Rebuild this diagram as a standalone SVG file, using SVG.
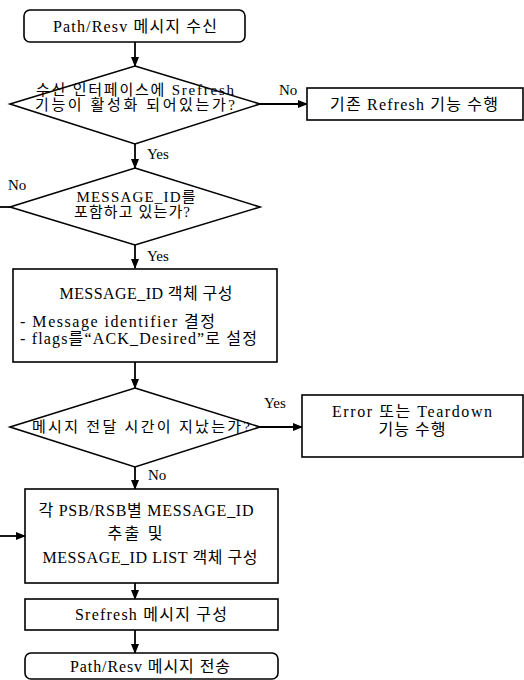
<svg xmlns="http://www.w3.org/2000/svg" width="524" height="680" viewBox="0 0 524 680">
<defs>
<marker id="ah" markerWidth="10" markerHeight="8" refX="9" refY="4" orient="auto" markerUnits="userSpaceOnUse">
<path d="M0,0 L10,4 L0,8 Z" fill="#000"/>
</marker>
<style>
.s{fill:#fff;stroke:#000;stroke-width:1.6}
.t{font-family:"Liberation Serif","Noto Sans CJK KR",serif;font-size:16px;fill:#000}
.d{font-size:15px}
.m{text-anchor:middle}
.c{stroke:#000;stroke-width:1.8;fill:none}
</style>
</defs>
<rect width="524" height="680" fill="#fff"/>
<g id="connectors">
<line class="c" x1="135" y1="42" x2="135" y2="66" marker-end="url(#ah)"/>
<line class="c" x1="260" y1="104" x2="307" y2="104" marker-end="url(#ah)"/>
<line class="c" x1="135" y1="144" x2="135" y2="168" marker-end="url(#ah)"/>
<line class="c" x1="10" y1="207" x2="0" y2="207"/>
<line class="c" x1="135" y1="245" x2="135" y2="268" marker-end="url(#ah)"/>
<line class="c" x1="135" y1="362" x2="135" y2="388" marker-end="url(#ah)"/>
<line class="c" x1="260" y1="427" x2="302" y2="427" marker-end="url(#ah)"/>
<line class="c" x1="135" y1="467" x2="135" y2="489" marker-end="url(#ah)"/>
<line class="c" x1="0" y1="536" x2="25" y2="536" marker-end="url(#ah)"/>
<line class="c" x1="135" y1="583" x2="135" y2="599" marker-end="url(#ah)"/>
<line class="c" x1="135" y1="630" x2="135" y2="653" marker-end="url(#ah)"/>
<text class="t d" x="279" y="95">No</text>
<text class="t d" x="147" y="159">Yes</text>
<text class="t d" x="8" y="190">No</text>
<text class="t d" x="147" y="261">Yes</text>
<text class="t d" x="264" y="408">Yes</text>
<text class="t d" x="148" y="480">No</text>
</g>
<g id="start">
<rect class="s" x="24" y="10" width="221" height="32" rx="6"/>
<text class="t m" x="135" y="32" textLength="164" lengthAdjust="spacing">Path/Resv 메시지 수신</text>
</g>
<g id="d1">
<polygon class="s" points="135,66 260,104 135,144 10,104"/>
<text class="t d m" x="135" y="95" textLength="198" lengthAdjust="spacing">수신 인터페이스에 Srefresh</text>
<text class="t d m" x="135" y="110" textLength="200" lengthAdjust="spacing">기능이 활성화 되어있는가?</text>
</g>
<g id="refresh">
<rect class="s" x="307" y="88" width="216" height="32"/>
<text class="t m" x="414" y="110" textLength="168" lengthAdjust="spacing">기존 Refresh 기능 수행</text>
</g>
<g id="d2">
<polygon class="s" points="135,168 260,207 135,245 10,207"/>
<text class="t d m" x="136" y="202" textLength="119" lengthAdjust="spacing">MESSAGE_ID를</text>
<text class="t d m" x="132" y="217" textLength="116" lengthAdjust="spacing">포함하고 있는가?</text>
</g>
<g id="msgid">
<rect class="s" x="13" y="269" width="264" height="93"/>
<text class="t m" x="146" y="299" textLength="173" lengthAdjust="spacing">MESSAGE_ID 객체 구성</text>
<text class="t" x="20" y="327" textLength="195" lengthAdjust="spacing">- Message identifier 결정</text>
<text class="t" x="20" y="344" textLength="237" lengthAdjust="spacing">- flags를“ACK_Desired”로 설정</text>
</g>
<g id="d3">
<polygon class="s" points="135,388 260,427 135,467 10,427"/>
<text class="t d m" x="141" y="432" textLength="218" lengthAdjust="spacing">메시지 전달 시간이 지났는가?</text>
</g>
<g id="error">
<rect class="s" x="302" y="395" width="221" height="62"/>
<text class="t m" x="412" y="417" textLength="160" lengthAdjust="spacing">Error 또는 Teardown</text>
<text class="t m" x="412" y="435" textLength="67" lengthAdjust="spacing">기능 수행</text>
</g>
<g id="psb">
<rect class="s" x="25" y="489" width="253" height="94"/>
<text class="t m" x="146" y="516" textLength="215" lengthAdjust="spacing">각 PSB/RSB별 MESSAGE_ID</text>
<text class="t m" x="135" y="539" textLength="55" lengthAdjust="spacing">추출 및</text>
<text class="t m" x="150" y="563" textLength="215" lengthAdjust="spacing">MESSAGE_ID LIST 객체 구성</text>
</g>
<g id="srefresh">
<rect class="s" x="25" y="599" width="253" height="31"/>
<text class="t m" x="151" y="620" textLength="152" lengthAdjust="spacing">Srefresh 메시지 구성</text>
</g>
<g id="end">
<rect class="s" x="25" y="653" width="253" height="26" rx="6"/>
<text class="t m" x="150" y="672" textLength="160" lengthAdjust="spacing">Path/Resv 메시지 전송</text>
</g>
</svg>
